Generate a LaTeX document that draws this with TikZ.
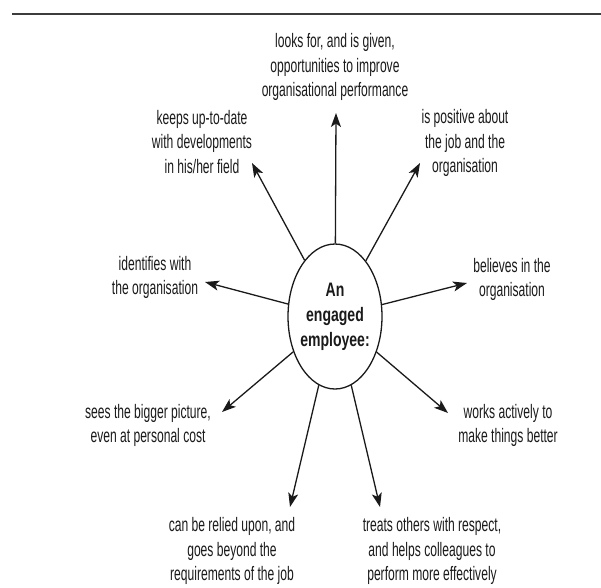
\documentclass[tikz,border=0pt]{standalone}
\usepackage{fontspec}
\setmainfont{Liberation Sans}[FakeStretch=0.62, BoldFeatures={FakeStretch=0.72}]
\usepackage{tikz}
\usetikzlibrary{arrows.meta,shapes.geometric,positioning}
\usepackage{xcolor}
\definecolor{ink}{HTML}{1A1A1A}
\definecolor{rule}{HTML}{3C3C3C}

\begin{document}
\begin{tikzpicture}[x=1pt, y=-1pt,
  labelnode/.style={
    align=center,
    inner sep=0pt,
    text=ink,
    font=\fontsize{19.5}{24.5}\selectfont
  },
  centrenode/.style={
    ellipse,
    draw=ink,
    line width=1.3pt,
    inner xsep=-4pt,
    inner ysep=0pt,
    minimum width=94pt,
    minimum height=145pt,
    align=center,
    text=ink,
    font=\bfseries\fontsize{19.5}{25}\selectfont
  },
  spoke/.style={
    line width=1.3pt,
    ink,
    -{Stealth[length=14pt, width=10pt, inset=3.5pt]}
  }
  ]
  \useasboundingbox (0,0) rectangle (601,587);

  % top rule
  \coordinate (rule-l) at (12,14);
  \coordinate (rule-r) at (601,14);
  \draw[line width=2.2pt, rule] (rule-l) -- (rule-r);

  % centre
  \node[centrenode] (emp) at (335,316.5) {An\\engaged\\employee:};

  % labels
  \node[labelnode] (perf) at (335,67) {looks for, and is given,\\opportunities to improve\\organisational performance};
  \node[labelnode] (positive) at (465,143) {is positive about\\the job and the\\organisation};
  \node[labelnode] (uptodate) at (202,142) {keeps up-to-date\\with developments\\in his/her field};
  \node[labelnode] (identifies) at (155,277.5) {identifies with\\the organisation};
  \node[labelnode] (believes) at (512,279.5) {believes in the\\organisation};
  \node[labelnode] (bigger) at (148,425.5) {sees the bigger picture,\\even at personal cost};
  \node[labelnode] (actively) at (508,425.5) {works actively to\\make things better};
  \node[labelnode] (relied) at (232,551) {can be relied upon, and\\goes beyond the\\requirements of the job};
  \node[labelnode] (respect) at (432,551) {treats others with respect,\\and helps colleagues to\\perform more effectively};

  % arrow tips
  \coordinate (perf-tip) at (336,113);
  \coordinate (positive-tip) at (420,163);
  \coordinate (uptodate-tip) at (252,163);
  \coordinate (identifies-tip) at (205,282);
  \coordinate (believes-tip) at (467,283);
  \coordinate (bigger-tip) at (222,412);
  \coordinate (actively-tip) at (448,413);
  \coordinate (relied-tip) at (290,507);
  \coordinate (respect-tip) at (380,507);

  \draw[spoke] (emp) -- (perf-tip);
  \draw[spoke] (emp) -- (positive-tip);
  \draw[spoke] (emp) -- (uptodate-tip);
  \draw[spoke] (emp) -- (identifies-tip);
  \draw[spoke] (emp) -- (believes-tip);
  \draw[spoke] (emp) -- (bigger-tip);
  \draw[spoke] (emp) -- (actively-tip);
  \draw[spoke] (emp) -- (relied-tip);
  \draw[spoke] (emp) -- (respect-tip);

\end{tikzpicture}
\end{document}
